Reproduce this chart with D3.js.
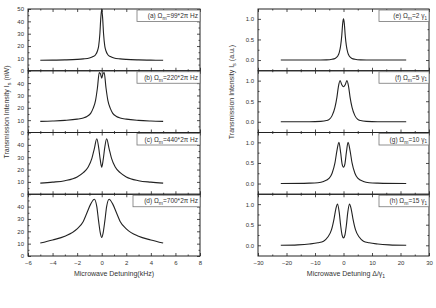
<!DOCTYPE html>
<html><head><meta charset="utf-8">
<script src="https://cdn.jsdelivr.net/npm/d3@7"></script>
<style>body{margin:0;background:#fff}svg{display:block}text{font-family:"Liberation Sans",Arial,sans-serif;fill:#333}</style>
</head><body><svg id="c" width="436" height="308"></svg>
<script>
// ---- data (left: kHz vs nW) ----
const xA=[-5,-4,-3,-2,-1.5,-1,-0.7,-0.5,-0.35,-0.25,-0.15,-0.08,0,0.08,0.15,0.25,0.35,0.5,0.7,1,1.5,2,3,4,5];
const yA=[8.5,8.6,8.8,9.2,9.6,10.3,11.5,13,16,20,30,42,50,42,30,20,16,13,11.5,10.3,9.6,9.2,8.8,8.6,8.5];
const xB=[-5,-4,-3,-2,-1.5,-1.2,-0.9,-0.7,-0.5,-0.35,-0.2,-0.1,0,0.1,0.2,0.35,0.5,0.7,0.9,1.2,1.5,2,3,4,5];
const yB=[9,9.3,9.8,10.8,11.8,13,15.5,19.5,26,36,48.5,47.5,44,47.5,48.5,36,26,19.5,15.5,13,11.8,10.8,9.8,9.3,9];
const xC=[-5,-4,-3,-2,-1.5,-1.1,-0.8,-0.6,-0.4,-0.25,-0.12,0,0.12,0.25,0.4,0.6,0.8,1.1,1.5,2,3,4,5];
const yC=[9,9.8,11,14,17.5,22,29,37,45,38,28,22,28,38,45,37,29,22,17.5,14,11,9.8,9];
const xD=[-5,-4,-3,-2,-1.5,-1.2,-0.9,-0.6,-0.4,-0.25,-0.12,0,0.12,0.25,0.4,0.6,0.9,1.2,1.5,2,3,4,5];
const yD=[10.5,13,16,22,28,35,42,46,40,28,19,15,19,28,40,46,42,35,28,22,16,13,10.5];
// ---- data (right: Δ/γ1 vs a.u.) ----
const xE=[-22,-10,-6,-4,-3,-2,-1.5,-1,-0.6,-0.3,0,0.3,0.6,1,1.5,2,3,4,6,10,22];
const yE=[0,0,0.005,0.02,0.04,0.1,0.18,0.35,0.6,0.88,1,0.88,0.6,0.35,0.18,0.1,0.04,0.02,0.005,0,0];
const xF=[-22,-12,-8,-6,-5,-4,-3,-2.3,-1.8,-1.2,-0.6,0,0.6,1.2,1.8,2.3,3,4,5,6,8,12,22];
const yF=[0,0,0.01,0.03,0.06,0.15,0.35,0.6,0.85,1,0.9,0.85,0.9,1,0.85,0.6,0.35,0.15,0.06,0.03,0.01,0,0];
const xG=[-22,-12,-9,-7,-5,-4,-3,-2.3,-1.6,-1,-0.5,0,0.5,1,1.6,2.3,3,4,5,7,9,12,22];
const yG=[0,0.01,0.02,0.05,0.13,0.25,0.5,0.8,1,0.75,0.48,0.4,0.48,0.75,1,0.8,0.5,0.25,0.13,0.05,0.02,0.01,0];
const xH=[-22,-16,-12,-9,-7,-5.5,-4.2,-3.3,-2.7,-2.1,-1.5,-1,-0.5,0,0.5,1,1.5,2.1,2.7,3.3,4.2,5.5,7,9,12,16,22];
const yH=[0,0.01,0.03,0.06,0.1,0.2,0.38,0.65,0.88,1,0.8,0.48,0.25,0.18,0.25,0.48,0.8,1,0.88,0.65,0.38,0.2,0.1,0.06,0.03,0.01,0];
// ---- labels ----
const leftLabels=[["(a)","99*2π Hz"],["(b)","220*2π Hz"],["(c)","440*2π Hz"],["(d)","700*2π Hz"]];
const rightLabels=[["(e)","2 γ"],["(f)","5 γ"],["(g)","10 γ"],["(h)","15 γ"]];
const leftX=[xA,xB,xC,xD], leftY=[yA,yB,yC,yD];
const rightX=[xE,xF,xG,xH], rightY=[yE,yF,yG,yH];
const leftXTicks=[-6,-4,-2,0,2,4,6,8], leftXMinor=[-5,-3,-1,1,3,5,7];
const rightXTicks=[-30,-20,-10,0,10,20,30], rightXMinor=[-25,-15,-5,5,15,25];

const svg=d3.select("#c");
const top0=9, bot=256, ph=(bot-top0)/4;
const xL=d3.scaleLinear([-6,8],[28,200]);
const xR=d3.scaleLinear([-30,30],[258,429]);
const line=(x,y)=>d3.line().x((d,i)=>x(d[0])).y(d=>y(d[1])).curve(d3.curveMonotoneX);

function panel(xs,ydom,top,i,xsData,ysData,yTicks,yMinor,yFmt,xT,xM,last,leg,right){
  const y=d3.scaleLinear(ydom,[top+ph,top]);
  const g=svg.append("g");
  const [x0,x1]=xs.range();
  // y axis left
  g.append("g").attr("transform",`translate(${x0},0)`)
    .call(d3.axisLeft(y).tickValues(yTicks).tickFormat(yFmt).tickSizeInner(-3).tickSizeOuter(0).tickPadding(4))
    .call(a=>a.select(".domain").remove())
    .call(a=>a.selectAll("text").attr("font-size",6).attr("fill","#444"));
  g.append("g").attr("transform",`translate(${x0},0)`)
    .call(d3.axisLeft(y).tickValues(yMinor).tickFormat("").tickSizeInner(-1.5).tickSizeOuter(0))
    .call(a=>a.select(".domain").remove());
  // right ticks
  g.append("g").attr("transform",`translate(${x1},0)`)
    .call(d3.axisRight(y).tickValues(yTicks).tickFormat("").tickSizeInner(-3).tickSizeOuter(0))
    .call(a=>a.select(".domain").remove());
  g.append("g").attr("transform",`translate(${x1},0)`)
    .call(d3.axisRight(y).tickValues(yMinor).tickFormat("").tickSizeInner(-1.5).tickSizeOuter(0))
    .call(a=>a.select(".domain").remove());
  // top & bottom ticks
  g.append("g").attr("transform",`translate(0,${top})`)
    .call(d3.axisTop(xs).tickValues(xT).tickFormat("").tickSizeInner(-3).tickSizeOuter(0))
    .call(a=>a.select(".domain").remove());
  g.append("g").attr("transform",`translate(0,${top})`)
    .call(d3.axisTop(xs).tickValues(xM).tickFormat("").tickSizeInner(-1.5).tickSizeOuter(0))
    .call(a=>a.select(".domain").remove());
  g.append("g").attr("transform",`translate(0,${top+ph})`)
    .call(d3.axisBottom(xs).tickValues(xT).tickFormat(last?d3.format("d"):"").tickSizeInner(-3).tickSizeOuter(0).tickPadding(5))
    .call(a=>a.select(".domain").remove())
    .call(a=>a.selectAll("text").attr("font-size",6).attr("fill","#444"));
  g.append("g").attr("transform",`translate(0,${top+ph})`)
    .call(d3.axisBottom(xs).tickValues(xM).tickFormat("").tickSizeInner(-1.5).tickSizeOuter(0))
    .call(a=>a.select(".domain").remove());
  g.selectAll(".tick line").attr("stroke","#222").attr("stroke-width",0.8);
  // frame
  g.append("rect").attr("x",x0).attr("y",top).attr("width",x1-x0).attr("height",ph)
    .attr("fill","none").attr("stroke","#222").attr("stroke-width",1);
  // curve
  const pts=xsData.map((v,k)=>[v,ysData[k]]);
  g.append("path").attr("d",line(xs,y)(pts)).attr("fill","none").attr("stroke","#222").attr("stroke-width",1.1);
  // legend
  const lw=right?50:(i===3?67:63), lh=11.5;
  const lg=g.append("g");
  lg.append("rect").attr("x",x1-lw).attr("y",top+1).attr("width",lw).attr("height",lh)
    .attr("fill","#fff").attr("stroke","#777").attr("stroke-width",0.8);
  const t=lg.append("text").attr("x",x1-2).attr("y",top+9).attr("text-anchor","end").attr("font-size",right?6.5:6.5);
  t.append("tspan").text(leg[0]+" Ω");
  t.append("tspan").attr("font-size",5).attr("dy",2).text("m");
  if(right){
    t.append("tspan").attr("dy",-2).text("="+leg[1]);
    t.append("tspan").attr("font-size",4.5).attr("dy",1.5).text("1");
  } else {
    t.append("tspan").attr("dy",-2).text("="+leg[1]);
  }
}

for(let i=0;i<4;i++){
  const top=top0+i*ph;
  panel(xL,[0,50],top,i,leftX[i],leftY[i],i===0?[0,10,20,30,40,50]:[0,10,20,30,40],[5,15,25,35,45],d3.format("d"),leftXTicks,leftXMinor,i===3,leftLabels[i],false);
  panel(xR,[-0.26,1.24],top,i,rightX[i],rightY[i],[0,0.5,1],[0.25,0.75],d3.format(".1f"),rightXTicks,rightXMinor,i===3,rightLabels[i],true);
}

// axis titles
const tl=svg.append("text").attr("transform","translate(9,112) rotate(-90)").attr("text-anchor","middle").attr("font-size",7);
tl.append("tspan").text("Transmission Intensity I");
tl.append("tspan").attr("font-size",5.5).attr("dy",2).text("s");
tl.append("tspan").attr("dy",-2).text(" (nW)");
const tr=svg.append("text").attr("transform","translate(234,92) rotate(-90)").attr("text-anchor","middle").attr("font-size",7);
tr.append("tspan").text("Transmission Intensity I");
tr.append("tspan").attr("font-size",5.5).attr("dy",2).text("s");
tr.append("tspan").attr("dy",-2).text(" (a.u.)");
svg.append("text").attr("x",114).attr("y",276).attr("text-anchor","middle").attr("font-size",7).text("Microwave Detuning(kHz)");
const bx=svg.append("text").attr("x",346).attr("y",276).attr("text-anchor","middle").attr("font-size",7);
bx.append("tspan").text("Microwave Detuning  Δ/γ");
bx.append("tspan").attr("font-size",5).attr("dy",2).text("1");
</script></body></html>
